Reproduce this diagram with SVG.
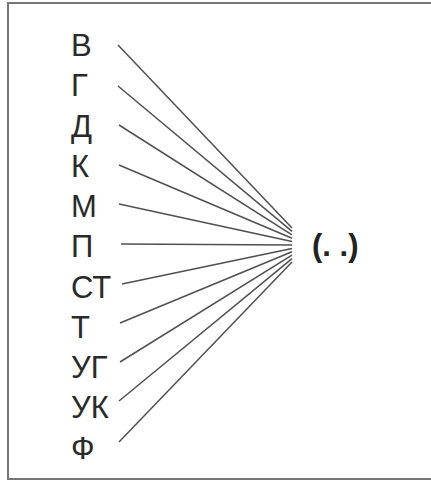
<svg xmlns="http://www.w3.org/2000/svg" width="431" height="481" viewBox="0 0 431 481">
<style>
.lbl{font-family:"Liberation Sans",Arial,sans-serif;font-size:31px;fill:#2a2a2a}
.tgt{font-family:"Liberation Sans",Arial,sans-serif;font-size:31px;font-weight:bold;fill:#222}
.c line{stroke:#505050;stroke-width:1.5}
</style>
<rect x="0" y="0" width="431" height="481" fill="#fff"/>
<path d="M431 3 H8 V479 H431" fill="none" stroke="#777" stroke-width="2"/>
<g id="n-v"><text class="lbl" x="71" y="56">В</text></g>
<g id="n-g"><text class="lbl" x="71" y="96">Г</text></g>
<g id="n-d"><text class="lbl" x="71" y="137">Д</text></g>
<g id="n-k"><text class="lbl" x="71" y="177">К</text></g>
<g id="n-m"><text class="lbl" x="71" y="217">М</text></g>
<g id="n-p"><text class="lbl" x="71" y="257">П</text></g>
<g id="n-st"><text class="lbl" x="71" y="298">СТ</text></g>
<g id="n-t"><text class="lbl" x="71" y="338">Т</text></g>
<g id="n-ug"><text class="lbl" x="71" y="378">УГ</text></g>
<g id="n-uk"><text class="lbl" x="71" y="418">УК</text></g>
<g id="n-f"><text class="lbl" x="71" y="459">Ф</text></g>
<g id="n-target"><text class="tgt" x="312" y="256">(. .)</text></g>
<g id="connectors" class="c">
<line x1="118" y1="45" x2="292" y2="228"/>
<line x1="118" y1="86" x2="292" y2="231.4"/>
<line x1="119" y1="125" x2="292" y2="234.8"/>
<line x1="119" y1="165" x2="292" y2="238.2"/>
<line x1="119" y1="204" x2="292" y2="241.6"/>
<line x1="121" y1="244" x2="292" y2="245"/>
<line x1="122" y1="284" x2="292" y2="248.4"/>
<line x1="120" y1="323" x2="292" y2="251.8"/>
<line x1="120" y1="362" x2="292" y2="255.2"/>
<line x1="119" y1="401" x2="292" y2="258.6"/>
<line x1="119" y1="442" x2="292" y2="262"/>
</g>
</svg>
